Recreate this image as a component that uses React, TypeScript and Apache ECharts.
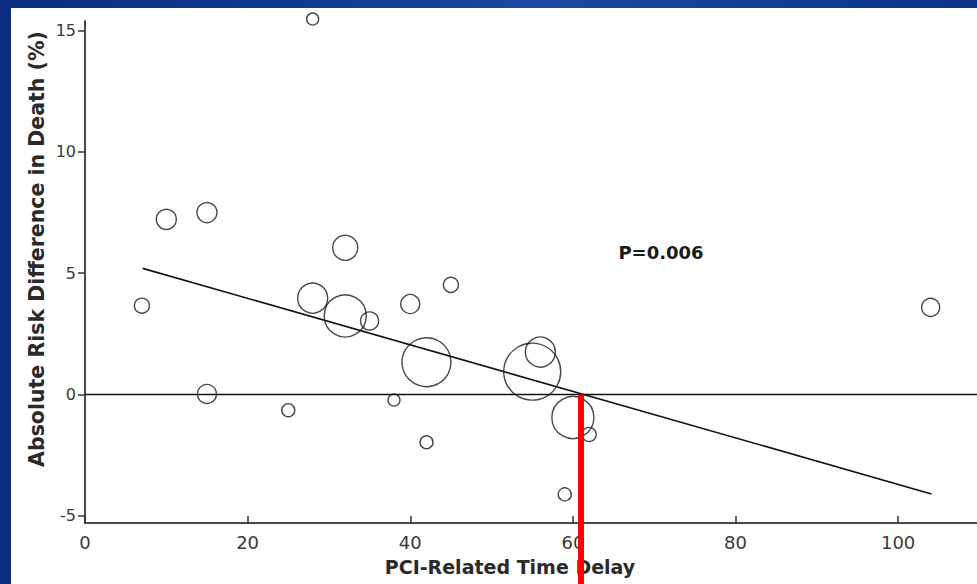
import React, { useEffect, useRef } from "react";
import * as echarts from "echarts";

// Trial data
const delayMinutes = [7, 10, 15, 15, 25, 28, 28, 32, 32, 35, 38, 40, 42, 42, 45, 55, 56, 59, 60, 62, 104];
const riskDifference = [3.66, 7.22, 7.5, 0.02, -0.65, 15.48, 3.97, 6.05, 3.24, 3.03, -0.23, 3.73, -1.97, 1.33, 4.52, 0.94, 1.75, -4.12, -0.95, -1.65, 3.59];
const bubbleDiameters = [15, 20, 20, 19, 13, 12, 30, 25, 42, 18, 12, 19, 13, 49, 15, 57, 30, 13, 42, 14, 18];

const regressionX = [7.1, 104.1];
const regressionY = [5.2, -4.1];

const xTicks = [0, 20, 40, 60, 80, 100];
const yTicks = [-5, 0, 5, 10, 15];
const xRange = [0, 109.7];
const yRange = [-5.3, 15.4];
const markerDelay = 61;

const xTitle = "PCI-Related Time Delay";
const yTitle = "Absolute Risk Difference in Death (%)";
const pLabel = "P=0.006";
const pLabelPos = [65.6, 5.85];

const FONT = "'DejaVu Sans', 'Liberation Sans', Arial, sans-serif";

export default function App() {
  const ref = useRef<HTMLDivElement>(null);

  useEffect(() => {
    if (!ref.current) return;
    const chart = echarts.init(ref.current, null, { renderer: "svg" });
    const points = delayMinutes.map((x, i) => [x, riskDifference[i]]);
    const option: any = {
      animation: false,
      backgroundColor: "#ffffff",
      grid: { left: 74, right: 0, top: 13, height: 502 },
      xAxis: {
        type: "value",
        min: xRange[0],
        max: xRange[1],
        splitLine: { show: false },
        axisLine: { show: true, onZero: false, lineStyle: { color: "#4a4a4a", width: 2 } },
        axisTick: { show: true, inside: true, length: 7, customValues: xTicks, lineStyle: { color: "#333", width: 1.5 } },
        axisLabel: { customValues: xTicks, margin: 10, color: "#3a3a3a", fontSize: 18, fontFamily: FONT },
      },
      yAxis: {
        type: "value",
        min: yRange[0],
        max: yRange[1],
        splitLine: { show: false },
        axisLine: { show: true, onZero: false, lineStyle: { color: "#4a4a4a", width: 2 } },
        axisTick: { show: true, inside: false, length: 7, customValues: yTicks, lineStyle: { color: "#333", width: 1.5 } },
        axisLabel: { customValues: yTicks, margin: 9, color: "#3a3a3a", fontSize: 16, fontFamily: FONT },
      },
      series: [
        {
          type: "line",
          data: [[xRange[0], 0], [xRange[1], 0]],
          symbol: "none",
          lineStyle: { color: "#111", width: 1.6 },
          silent: true,
          z: 1,
        },
        {
          type: "line",
          data: regressionX.map((x, i) => [x, regressionY[i]]),
          symbol: "none",
          lineStyle: { color: "#111", width: 1.6 },
          silent: true,
          z: 2,
        },
        {
          type: "scatter",
          data: points,
          clip: false,
          symbol: "circle",
          symbolSize: (_v: any, p: any) => bubbleDiameters[p.dataIndex],
          itemStyle: { color: "rgba(0,0,0,0)", borderColor: "#1a1a1a", borderWidth: 1.4 },
          z: 3,
        },
      ],
    };
    chart.setOption(option);

    const redTop = chart.convertToPixel({ gridIndex: 0 }, [markerDelay, 0]) as number[];
    const pPos = chart.convertToPixel({ gridIndex: 0 }, pLabelPos) as number[];
    chart.setOption({
      graphic: [
        {
          type: "line",
          shape: { x1: redTop[0], y1: redTop[1], x2: redTop[0], y2: 576 },
          style: { stroke: "#ff0000", lineWidth: 6 },
          z: 100,
        },
        {
          type: "text",
          x: pPos[0],
          y: pPos[1],
          style: { text: pLabel, fontFamily: FONT, fontWeight: "bold", fontSize: 18, fill: "#1a1a1a", textAlign: "left", textVerticalAlign: "middle" },
        },
        {
          type: "text",
          x: 499,
          y: 559,
          style: { text: xTitle, fontFamily: FONT, fontWeight: "bold", fontSize: 19, fill: "#2a2a2a", textAlign: "center", textVerticalAlign: "middle" },
          z: 50,
        },
        {
          type: "text",
          x: 26,
          y: 241,
          rotation: Math.PI / 2,
          style: { text: yTitle, fontFamily: FONT, fontWeight: "bold", fontSize: 20.5, fill: "#2a2a2a", textAlign: "center", textVerticalAlign: "middle" },
        },
      ],
    });
    return () => chart.dispose();
  }, []);

  return (
    <div
      style={{
        position: "fixed",
        left: 0,
        top: 0,
        width: 977,
        height: 584,
        background: "linear-gradient(90deg, #0b2c80 0%, #123f98 40%, #1a4aa3 55%, #0d3389 100%)",
      }}
    >
      <div ref={ref} style={{ position: "absolute", left: 11, top: 8, width: 966, height: 576 }} />
    </div>
  );
}
